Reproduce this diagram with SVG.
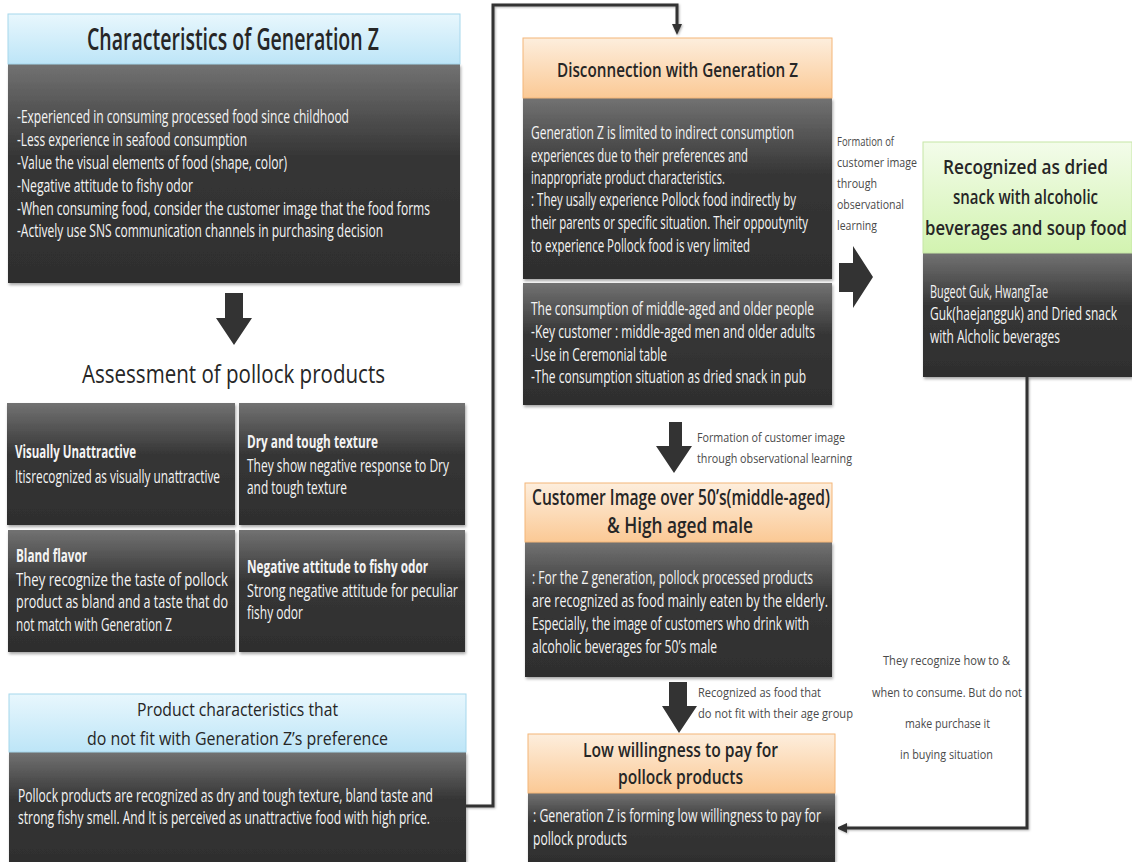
<svg xmlns="http://www.w3.org/2000/svg" width="1132" height="862" viewBox="0 0 1132 862">
<defs>
<linearGradient id="gDark" x1="0" y1="0" x2="0" y2="1">
<stop offset="0" stop-color="#727272"/>
<stop offset="0.42" stop-color="#363636"/>
<stop offset="1" stop-color="#2e2e2e"/>
</linearGradient>
<linearGradient id="gBlue" x1="0" y1="0" x2="0" y2="1">
<stop offset="0" stop-color="#e8f7fd"/>
<stop offset="1" stop-color="#bde5f7"/>
</linearGradient>
<linearGradient id="gOrange" x1="0" y1="0" x2="0" y2="1">
<stop offset="0" stop-color="#fdeedd"/>
<stop offset="1" stop-color="#fbc995"/>
</linearGradient>
<linearGradient id="gGreen" x1="0" y1="0" x2="0" y2="1">
<stop offset="0" stop-color="#f3fcea"/>
<stop offset="1" stop-color="#d2f3b0"/>
</linearGradient>
<filter id="sh" x="-5%" y="-5%" width="110%" height="115%">
<feDropShadow dx="1" dy="2" stdDeviation="1.5" flood-color="#000" flood-opacity="0.35"/>
</filter>
<filter id="lsh" x="-5%" y="-5%" width="110%" height="110%">
<feDropShadow dx="1" dy="1" stdDeviation="0.8" flood-color="#000" flood-opacity="0.3"/>
</filter>
<marker id="ah" viewBox="0 0 11 10" refX="0" refY="5" markerWidth="11" markerHeight="10" markerUnits="userSpaceOnUse" orient="auto">
<path d="M0,0 L11,5 L0,10 z" fill="#333"/>
</marker>
<style>
text { font-family: "Open Sans", "Liberation Sans", sans-serif; }
.dark { fill: url(#gDark); filter: url(#sh); }
.blue { fill: url(#gBlue); stroke: #a6d7ec; stroke-width: 1; }
.orange { fill: url(#gOrange); stroke: #f4b679; stroke-width: 1; }
.green { fill: url(#gGreen); stroke: #c6e6a6; stroke-width: 1; }
.b { fill: #f4f4f4; font-size: 17.5px; }
.bb { fill: #f4f4f4; font-size: 17px; font-weight: 700; }
.h { fill: #262626; font-size: 20px; font-weight: 600; }
.lbl { fill: #4a4a4a; font-size: 12px; }
.line { fill: none; stroke: #333; stroke-width: 3; filter: url(#lsh); }
.block { fill: #333; }
</style>
</defs>

<g id="characteristics">
<rect class="dark" x="8" y="64" width="452" height="219"/>
<rect class="blue" x="8" y="14" width="452" height="50"/>
<text class="h" x="87" y="50" style="font-size:30px" textLength="292" lengthAdjust="spacingAndGlyphs">Characteristics of Generation Z</text>
<text class="b" x="17" y="123" textLength="332" lengthAdjust="spacingAndGlyphs">-Experienced in consuming processed food since childhood</text>
<text class="b" x="17" y="146" textLength="230" lengthAdjust="spacingAndGlyphs">-Less experience in seafood consumption</text>
<text class="b" x="17" y="169" textLength="270" lengthAdjust="spacingAndGlyphs">-Value the visual elements of food (shape, color)</text>
<text class="b" x="17" y="192" textLength="176" lengthAdjust="spacingAndGlyphs">-Negative attitude to fishy odor</text>
<text class="b" x="17" y="215" textLength="413" lengthAdjust="spacingAndGlyphs">-When consuming food, consider the customer image that the food forms</text>
<text class="b" x="17" y="237" textLength="366" lengthAdjust="spacingAndGlyphs">-Actively use SNS communication channels in purchasing decision</text>
</g>

<g id="assessment">
<text x="82" y="383" style="font-size:25px; fill:#262626" textLength="303" lengthAdjust="spacingAndGlyphs">Assessment of pollock products</text>
</g>

<g id="visually-unattractive">
<rect class="dark" x="7" y="403" width="228" height="122"/>
<text class="bb" x="15" y="458" textLength="121" lengthAdjust="spacingAndGlyphs">Visually Unattractive</text>
<text class="b" x="15" y="483" textLength="205" lengthAdjust="spacingAndGlyphs">Itisrecognized as visually unattractive</text>
</g>

<g id="dry-tough">
<rect class="dark" x="239" y="403" width="226" height="122"/>
<text class="bb" x="247" y="448" textLength="131" lengthAdjust="spacingAndGlyphs">Dry and tough texture</text>
<text class="b" x="247" y="472" textLength="202" lengthAdjust="spacingAndGlyphs">They show negative response to Dry</text>
<text class="b" x="247" y="494" textLength="100" lengthAdjust="spacingAndGlyphs">and tough texture</text>
</g>

<g id="bland-flavor">
<rect class="dark" x="8" y="530" width="227" height="122"/>
<text class="bb" x="16" y="562" textLength="71" lengthAdjust="spacingAndGlyphs">Bland flavor</text>
<text class="b" x="16" y="586" textLength="212" lengthAdjust="spacingAndGlyphs">They recognize the taste of pollock</text>
<text class="b" x="16" y="608" textLength="212" lengthAdjust="spacingAndGlyphs">product as bland and a taste that do</text>
<text class="b" x="16" y="631" textLength="156" lengthAdjust="spacingAndGlyphs">not match with Generation Z</text>
</g>

<g id="fishy-odor">
<rect class="dark" x="239" y="530" width="226" height="122"/>
<text class="bb" x="247" y="573" textLength="181" lengthAdjust="spacingAndGlyphs">Negative attitude to fishy odor</text>
<text class="b" x="247" y="597" textLength="211" lengthAdjust="spacingAndGlyphs">Strong negative attitude for peculiar</text>
<text class="b" x="247" y="619" textLength="56" lengthAdjust="spacingAndGlyphs">fishy odor</text>
</g>

<g id="product-characteristics">
<rect class="dark" x="9" y="752" width="457" height="112"/>
<rect class="blue" x="9" y="694" width="457" height="58"/>
<text class="h" x="137" y="716" style="font-weight:400; font-size:19px" textLength="201" lengthAdjust="spacingAndGlyphs">Product characteristics that</text>
<text class="h" x="87" y="745" style="font-weight:400; font-size:19px" textLength="301" lengthAdjust="spacingAndGlyphs">do not fit with Generation Z’s preference</text>
<text class="b" x="18" y="802" textLength="415" lengthAdjust="spacingAndGlyphs">Pollock products are recognized as dry and tough texture, bland taste and</text>
<text class="b" x="18" y="824" textLength="412" lengthAdjust="spacingAndGlyphs">strong fishy smell. And It is perceived as unattractive food with high price.</text>
</g>

<g id="disconnection">
<rect class="dark" x="523" y="98" width="309" height="181"/>
<rect class="dark" x="523" y="283" width="309" height="122"/>
<rect class="orange" x="523" y="38" width="309" height="60"/>
<text class="h" x="557" y="77" textLength="241" lengthAdjust="spacingAndGlyphs">Disconnection with Generation Z</text>
<text class="b" x="531" y="139" textLength="263" lengthAdjust="spacingAndGlyphs">Generation Z is limited to indirect consumption</text>
<text class="b" x="531" y="162" textLength="217" lengthAdjust="spacingAndGlyphs">experiences due to their preferences and</text>
<text class="b" x="531" y="184" textLength="194" lengthAdjust="spacingAndGlyphs">inappropriate product characteristics.</text>
<text class="b" x="531" y="206" textLength="265" lengthAdjust="spacingAndGlyphs">: They usally experience Pollock food indirectly by</text>
<text class="b" x="531" y="229" textLength="277" lengthAdjust="spacingAndGlyphs">their parents or specific situation. Their oppoutynity</text>
<text class="b" x="531" y="252" textLength="219" lengthAdjust="spacingAndGlyphs">to experience Pollock food is very limited</text>
<text class="b" x="531" y="315" textLength="283" lengthAdjust="spacingAndGlyphs">The consumption of middle-aged and older people</text>
<text class="b" x="531" y="338" textLength="284" lengthAdjust="spacingAndGlyphs">-Key customer : middle-aged men and older adults</text>
<text class="b" x="531" y="361" textLength="136" lengthAdjust="spacingAndGlyphs">-Use in Ceremonial table</text>
<text class="b" x="531" y="383" textLength="275" lengthAdjust="spacingAndGlyphs">-The consumption situation as dried snack in pub</text>
</g>

<g id="customer-image">
<rect class="dark" x="525" y="542" width="307" height="135"/>
<rect class="orange" x="525" y="483" width="307" height="59"/>
<text class="h" x="532" y="505" style="font-size:21px" textLength="298" lengthAdjust="spacingAndGlyphs">Customer Image over 50’s(middle-aged)</text>
<text class="h" x="607" y="533" style="font-size:21px" textLength="146" lengthAdjust="spacingAndGlyphs">&amp; High aged male</text>
<text class="b" x="532" y="584" textLength="281" lengthAdjust="spacingAndGlyphs">: For the Z generation, pollock processed products</text>
<text class="b" x="532" y="607" textLength="296" lengthAdjust="spacingAndGlyphs">are recognized as food mainly eaten by the elderly.</text>
<text class="b" x="532" y="630" textLength="277" lengthAdjust="spacingAndGlyphs">Especially, the image of customers who drink with</text>
<text class="b" x="532" y="653" textLength="185" lengthAdjust="spacingAndGlyphs">alcoholic beverages for 50’s male</text>
</g>

<g id="low-willingness">
<rect class="dark" x="528" y="793" width="307" height="71"/>
<rect class="orange" x="528" y="734" width="307" height="59"/>
<text class="h" x="583" y="757" textLength="195" lengthAdjust="spacingAndGlyphs">Low willingness to pay for</text>
<text class="h" x="618" y="784" textLength="125" lengthAdjust="spacingAndGlyphs">pollock products</text>
<text class="b" x="533" y="822" textLength="288" lengthAdjust="spacingAndGlyphs">: Generation Z is forming low willingness to pay for</text>
<text class="b" x="533" y="845" textLength="94" lengthAdjust="spacingAndGlyphs">pollock products</text>
</g>

<g id="recognized-dried-snack">
<rect class="dark" x="923" y="253" width="209" height="124"/>
<rect class="green" x="923" y="142" width="209" height="111"/>
<text class="h" x="943" y="174" style="font-size:19px" textLength="165" lengthAdjust="spacingAndGlyphs">Recognized as dried</text>
<text class="h" x="953" y="204" style="font-size:19px" textLength="145" lengthAdjust="spacingAndGlyphs">snack with alcoholic</text>
<text class="h" x="925" y="235" style="font-size:19px" textLength="202" lengthAdjust="spacingAndGlyphs">beverages and soup food</text>
<text class="b" x="930" y="298" textLength="118" lengthAdjust="spacingAndGlyphs">Bugeot Guk, HwangTae</text>
<text class="b" x="930" y="320" textLength="187" lengthAdjust="spacingAndGlyphs">Guk(haejangguk) and Dried snack</text>
<text class="b" x="930" y="343" textLength="130" lengthAdjust="spacingAndGlyphs">with Alcholic beverages</text>
</g>

<g id="connectors">
<polygon class="block" points="225,293 243,293 243,318 252,318 234,345 216,318 225,318"/>
<path class="line" d="M466,806 H493 V5 H677 V24" marker-end="url(#ah)"/>
<polygon class="block" points="839,263 853,263 853,246 873,277 853,308 853,292 839,292"/>
<polygon class="block" points="669,422 682,422 682,446 692,446 674,473 656,446 669,446"/>
<polygon class="block" points="669,682 687,682 687,706 697,706 679,733 662,706 669,706"/>
<path class="line" d="M1027,377 V828 H847" marker-end="url(#ah)"/>
<text class="lbl" x="837" y="146" textLength="57" lengthAdjust="spacingAndGlyphs">Formation of</text>
<text class="lbl" x="837" y="167" textLength="80" lengthAdjust="spacingAndGlyphs">customer image</text>
<text class="lbl" x="837" y="188" textLength="40" lengthAdjust="spacingAndGlyphs">through</text>
<text class="lbl" x="837" y="209" textLength="67" lengthAdjust="spacingAndGlyphs">observational</text>
<text class="lbl" x="837" y="230" textLength="40" lengthAdjust="spacingAndGlyphs">learning</text>
<text class="lbl" x="697" y="442" textLength="148" lengthAdjust="spacingAndGlyphs">Formation of customer image</text>
<text class="lbl" x="697" y="463" textLength="155" lengthAdjust="spacingAndGlyphs">through observational learning</text>
<text class="lbl" x="698" y="697" textLength="123" lengthAdjust="spacingAndGlyphs">Recognized as food that</text>
<text class="lbl" x="698" y="718" textLength="155" lengthAdjust="spacingAndGlyphs">do not fit with their age group</text>
<text class="lbl" x="883" y="665" textLength="127" lengthAdjust="spacingAndGlyphs">They recognize how to &amp;</text>
<text class="lbl" x="872" y="697" textLength="150" lengthAdjust="spacingAndGlyphs">when to consume. But do not</text>
<text class="lbl" x="905" y="728" textLength="85" lengthAdjust="spacingAndGlyphs">make purchase it</text>
<text class="lbl" x="900" y="759" textLength="93" lengthAdjust="spacingAndGlyphs">in buying situation</text>
</g>
</svg>
